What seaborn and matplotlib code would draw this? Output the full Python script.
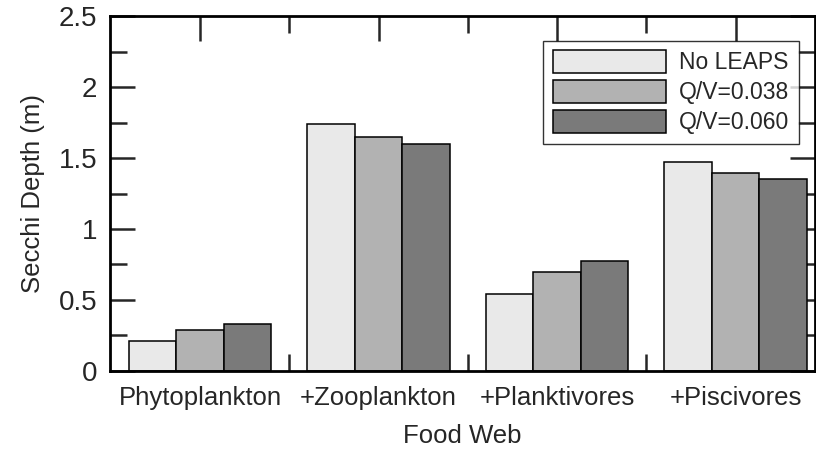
import matplotlib
matplotlib.use("Agg")
import matplotlib.pyplot as plt
import seaborn as sns
import pandas as pd
import numpy as np
from matplotlib.ticker import MultipleLocator, FixedLocator

categories = ["Phytoplankton", "+Zooplankton", "+Planktivores", "+Piscivores"]
series_names = ["No LEAPS", "Q/V=0.038", "Q/V=0.060"]
no_leaps = [0.21, 1.74, 0.54, 1.47]
qv_038 = [0.29, 1.65, 0.695, 1.395]
qv_060 = [0.33, 1.60, 0.775, 1.355]
colors = ["#e9e9e9", "#b2b2b2", "#7a7a7a"]

df = pd.DataFrame({
    "Food Web": categories * 3,
    "Series": [s for s in series_names for _ in categories],
    "Secchi": no_leaps + qv_038 + qv_060,
})

sns.set_style("white")
plt.rcParams["font.family"] = ["Liberation Sans", "DejaVu Sans"]

fig = plt.figure(figsize=(8.16, 4.5), dpi=100)
ax = fig.add_axes([0.1348, 0.1756, 0.864, 0.7888])

sns.barplot(data=df, x="Food Web", y="Secchi", hue="Series", order=categories,
            hue_order=series_names, palette=colors, width=0.8, ax=ax,
            edgecolor="black", linewidth=1.1, saturation=1, errorbar=None)

ax.set_xlim(-0.504, 3.445)
ax.set_ylim(0, 2.5)
ax.set_yticks([0, 0.5, 1, 1.5, 2, 2.5])
ax.set_yticklabels(["0", "0.5", "1", "1.5", "2", "2.5"])
ax.yaxis.set_minor_locator(MultipleLocator(0.25))
ax.xaxis.set_major_locator(FixedLocator([0, 1, 2, 3]))
ax.set_xticklabels(categories)
ax.xaxis.set_minor_locator(FixedLocator([0.5, 1.5, 2.5]))

ax.tick_params(axis="both", which="major", direction="in", length=18, width=1.8,
               top=True, right=True, bottom=True, left=True)
ax.tick_params(axis="both", which="minor", direction="in", length=12, width=1.8,
               top=True, right=True, bottom=True, left=True)
ax.tick_params(axis="y", which="major", labelsize=20, pad=9)
ax.tick_params(axis="x", which="major", labelsize=18.5, pad=11)

for sp in ax.spines.values():
    sp.set_visible(True)
    sp.set_linewidth(2)
    sp.set_color("black")

ax.set_xlabel("Food Web", fontsize=18.5, labelpad=10)
ax.set_ylabel("Secchi Depth (m)", fontsize=18.5, labelpad=10)

leg = ax.legend(loc="upper right", bbox_to_anchor=(0.977, 0.93), fontsize=16.5,
                frameon=True, fancybox=False, handlelength=4.93, handleheight=1.13,
                labelspacing=0.26, borderpad=0.42, handletextpad=0.57, borderaxespad=0)
leg.get_frame().set_edgecolor("black")
leg.get_frame().set_linewidth(1.0)

fig.savefig("out.png", dpi=100)
